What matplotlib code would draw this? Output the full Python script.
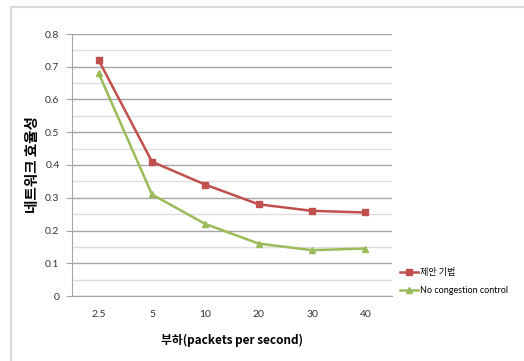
import numpy as np
import matplotlib.pyplot as plt
from matplotlib.lines import Line2D

plt.rcParams['font.family'] = ['Noto Sans CJK KR', 'DejaVu Sans']
latin = ['Lato', 'Noto Sans CJK KR', 'DejaVu Sans']

# 부하 값 (x축 범주)
loads = ['2.5', '5', '10', '20', '30', '40']
proposed = [0.72, 0.41, 0.34, 0.28, 0.26, 0.255]
no_control = [0.68, 0.31, 0.22, 0.16, 0.14, 0.145]

fig = plt.figure(figsize=(5.24, 3.61), dpi=100)
ax = fig.add_axes([72 / 524, 65 / 361, 320 / 524, 262 / 361])

x = np.arange(len(loads))
ax.plot(x, proposed, color='#C0504D', marker='s', markersize=5, linewidth=1.8, label='제안 기법')
ax.plot(x, no_control, color='#9BBB59', marker='^', markersize=5, linewidth=1.8,
        label='No congestion control')

ax.set_xlim(-0.5, len(loads) - 0.5)
ax.set_ylim(0, 0.8)
ax.set_xticks(x)
ax.set_xticklabels(loads, family=latin)
ax.set_yticks(np.arange(0, 0.81, 0.1))
ax.set_yticklabels(['0'] + ['%.1f' % v for v in np.arange(0.1, 0.81, 0.1)], family=latin)
ax.set_yticks(np.arange(0.05, 0.8, 0.1), minor=True)

# 격자선
ax.grid(axis='y', which='major', color='#A6A6A6', linewidth=1)
ax.grid(axis='y', which='minor', color='#DDDDDD', linewidth=1)
ax.set_axisbelow(True)

for s in ['top', 'right']:
    ax.spines[s].set_visible(False)
ax.spines['left'].set_color('#A6A6A6')
ax.spines['bottom'].set_color('#A6A6A6')
ax.tick_params(axis='y', which='major', length=4, color='#A6A6A6', labelsize=7.5, pad=5, labelcolor='#333333')
ax.tick_params(axis='y', which='minor', length=0)
ax.tick_params(axis='x', length=0, labelsize=7.5, pad=10, labelcolor='#333333')

ax.set_ylabel('네트워크 효율성', fontsize=10.5, fontweight='bold', labelpad=4)
ax.set_xlabel('부하(packets per second)', fontsize=8.5, fontweight='bold', labelpad=11)

ax.legend(loc='upper left', bbox_to_anchor=(1.015, 0.12), frameon=False,
          prop={'family': latin, 'size': 6.5},
          handlelength=2.0, handletextpad=0.15, labelspacing=1.0, borderaxespad=0)

# 차트 영역 테두리
fig.add_artist(Line2D([11 / 524, 11 / 524], [0, 1 - 7 / 361], transform=fig.transFigure,
                      color='#D9D9D9', linewidth=1.5))
fig.add_artist(Line2D([11 / 524, 1], [1 - 7 / 361, 1 - 7 / 361], transform=fig.transFigure,
                      color='#D9D9D9', linewidth=1.5))

fig.savefig('out.png', dpi=100)
